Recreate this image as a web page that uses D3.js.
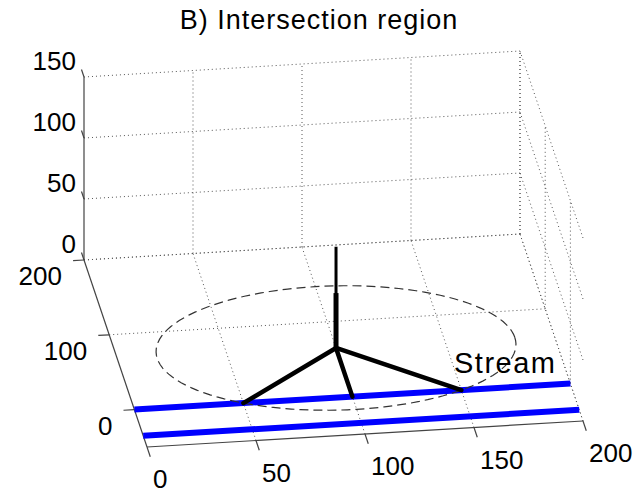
<!DOCTYPE html>
<html>
<head>
<meta charset="utf-8">
<script src="https://cdn.jsdelivr.net/npm/d3@7"></script>
<style>
  body { margin: 0; background: #fff; }
  text { font-family: "Liberation Sans", Arial, sans-serif; fill: #000; }
</style>
</head>
<body>
<svg id="chart" width="644" height="498"></svg>
<script>
// axis ticks
const xTicks = [0, 50, 100, 150, 200];
const yTicks = [0, 100, 200];
const zTicks = [0, 50, 100, 150];

// scene data (world units)
const towerBase = [100, 65];
const towerTop = 83;
const towerThickTop = 45;
const legFeet = [[50, 0], [100, 0], [150, 0]];
const circleRadius = 82;
const streamEdges = [0, -35];

const width = 644, height = 498;
const svg = d3.select("#chart");

// orthographic projection built from three linear scales
const corner = [147, 447];
const xS = d3.scaleLinear().domain([0, 200]).range([0, 1]);
const yS = d3.scaleLinear().domain([-50, 200]).range([0, 1]);
const zS = d3.scaleLinear().domain([0, 150]).range([0, 1]);
const EX = [436, -26], EY = [-63, -187], EZ = [0, -183];

function project(x, y, z) {
    const a = xS(x), b = yS(y), c = zS(z);
    return [
        corner[0] + a * EX[0] + b * EY[0] + c * EZ[0],
        corner[1] + a * EX[1] + b * EY[1] + c * EZ[1],
    ];
}

const line = d3.line();
const seg = (p, q) => line([project(...p), project(...q)]);

//Grid
const grid = svg.append("g")
    .attr("fill", "none")
    .attr("stroke", "#555")
    .attr("stroke-width", 1)
    .attr("stroke-dasharray", "1,3");

const gridSegs = [];
// floor
xTicks.slice(1).forEach(x => gridSegs.push([[x, -50, 0], [x, 200, 0]]));
yTicks.forEach(y => gridSegs.push([[0, y, 0], [200, y, 0]]));
// back wall y = 200
xTicks.slice(1).forEach(x => gridSegs.push([[x, 200, 0], [x, 200, 150]]));
zTicks.forEach(z => gridSegs.push([[0, 200, z], [200, 200, z]]));
// right wall x = 200
yTicks.forEach(y => gridSegs.push([[200, y, 0], [200, y, 150]]));
zTicks.forEach(z => gridSegs.push([[200, -50, z], [200, 200, z]]));

grid.selectAll("path").data(gridSegs).enter().append("path")
    .attr("d", d => seg(d[0], d[1]));

//Axes
const axes = svg.append("g")
    .attr("fill", "none")
    .attr("stroke", "#444")
    .attr("stroke-width", 1.2);

axes.append("path").attr("d", seg([0, -50, 0], [200, -50, 0]));
axes.append("path").attr("d", seg([0, -50, 0], [0, 200, 0]));
axes.append("path").attr("d", seg([0, 200, 0], [0, 200, 150]));

// tick marks
axes.selectAll(".xt").data(xTicks).enter().append("path")
    .attr("d", d => seg([d, -50, 0], [d, -63, 0]));
axes.selectAll(".yt").data(yTicks).enter().append("path")
    .attr("d", d => seg([0, d, 0], [-5, d, 0]));
axes.selectAll(".zt").data(zTicks).enter().append("path")
    .attr("d", d => seg([0, 200, d], [0, 210, d]));

// tick labels
const labels = svg.append("g").style("font-size", "26px");

labels.selectAll(".xl").data(xTicks).enter().append("text")
    .attr("x", d => project(d, -50, 0)[0] + 6)
    .attr("y", d => project(d, -50, 0)[1] + 32)
    .attr("dy", "0.35em")
    .text(d => d);

labels.selectAll(".yl").data(yTicks).enter().append("text")
    .attr("x", d => project(0, d, 0)[0] - 22)
    .attr("y", d => project(0, d, 0)[1] + 16)
    .attr("dy", "0.35em")
    .attr("text-anchor", "end")
    .text(d => d);

labels.selectAll(".zl").data(zTicks).enter().append("text")
    .attr("x", d => project(0, 200, d)[0] - 8)
    .attr("y", d => project(0, 200, d)[1] - 16)
    .attr("dy", "0.35em")
    .attr("text-anchor", "end")
    .text(d => d);

//Stream
svg.append("g").selectAll("path").data(streamEdges).enter().append("path")
    .attr("d", d => seg([0, d, 0], [200, d, 0]))
    .attr("stroke", "#0000ff")
    .attr("stroke-width", 6)
    .attr("fill", "none");

//Intersection circle
const circlePts = d3.range(0, 361, 3).map(a => {
    const t = a * Math.PI / 180;
    return project(towerBase[0] + circleRadius * Math.cos(t),
                   towerBase[1] + circleRadius * Math.sin(t), 0);
});
svg.append("path")
    .attr("d", line(circlePts))
    .attr("fill", "none")
    .attr("stroke", "#333")
    .attr("stroke-width", 1.2)
    .attr("stroke-dasharray", "9,5");

//Tower and legs
const frame = svg.append("g")
    .attr("fill", "none")
    .attr("stroke", "#000")
    .attr("stroke-linecap", "round");

frame.selectAll(".leg").data(legFeet).enter().append("path")
    .attr("d", d => seg([towerBase[0], towerBase[1], 0], [d[0], d[1], 0]))
    .attr("stroke-width", 4.5);

frame.append("path")
    .attr("d", seg([towerBase[0], towerBase[1], 0], [towerBase[0], towerBase[1], towerTop]))
    .attr("stroke-width", 3)
    .attr("stroke-linecap", "butt");

frame.append("path")
    .attr("d", seg([towerBase[0], towerBase[1], 0], [towerBase[0], towerBase[1], towerThickTop]))
    .attr("stroke-width", 5)
    .attr("stroke-linecap", "butt");

//Texts
svg.append("text")
    .attr("x", 454)
    .attr("y", 373)
    .style("font-size", "29px")
    .style("letter-spacing", "1.5px")
    .text("Stream");

svg.append("text")
    .attr("x", 319)
    .attr("y", 29)
    .attr("text-anchor", "middle")
    .style("font-size", "27px")
    .style("letter-spacing", "1px")
    .text("B) Intersection region");
</script>
</body>
</html>
